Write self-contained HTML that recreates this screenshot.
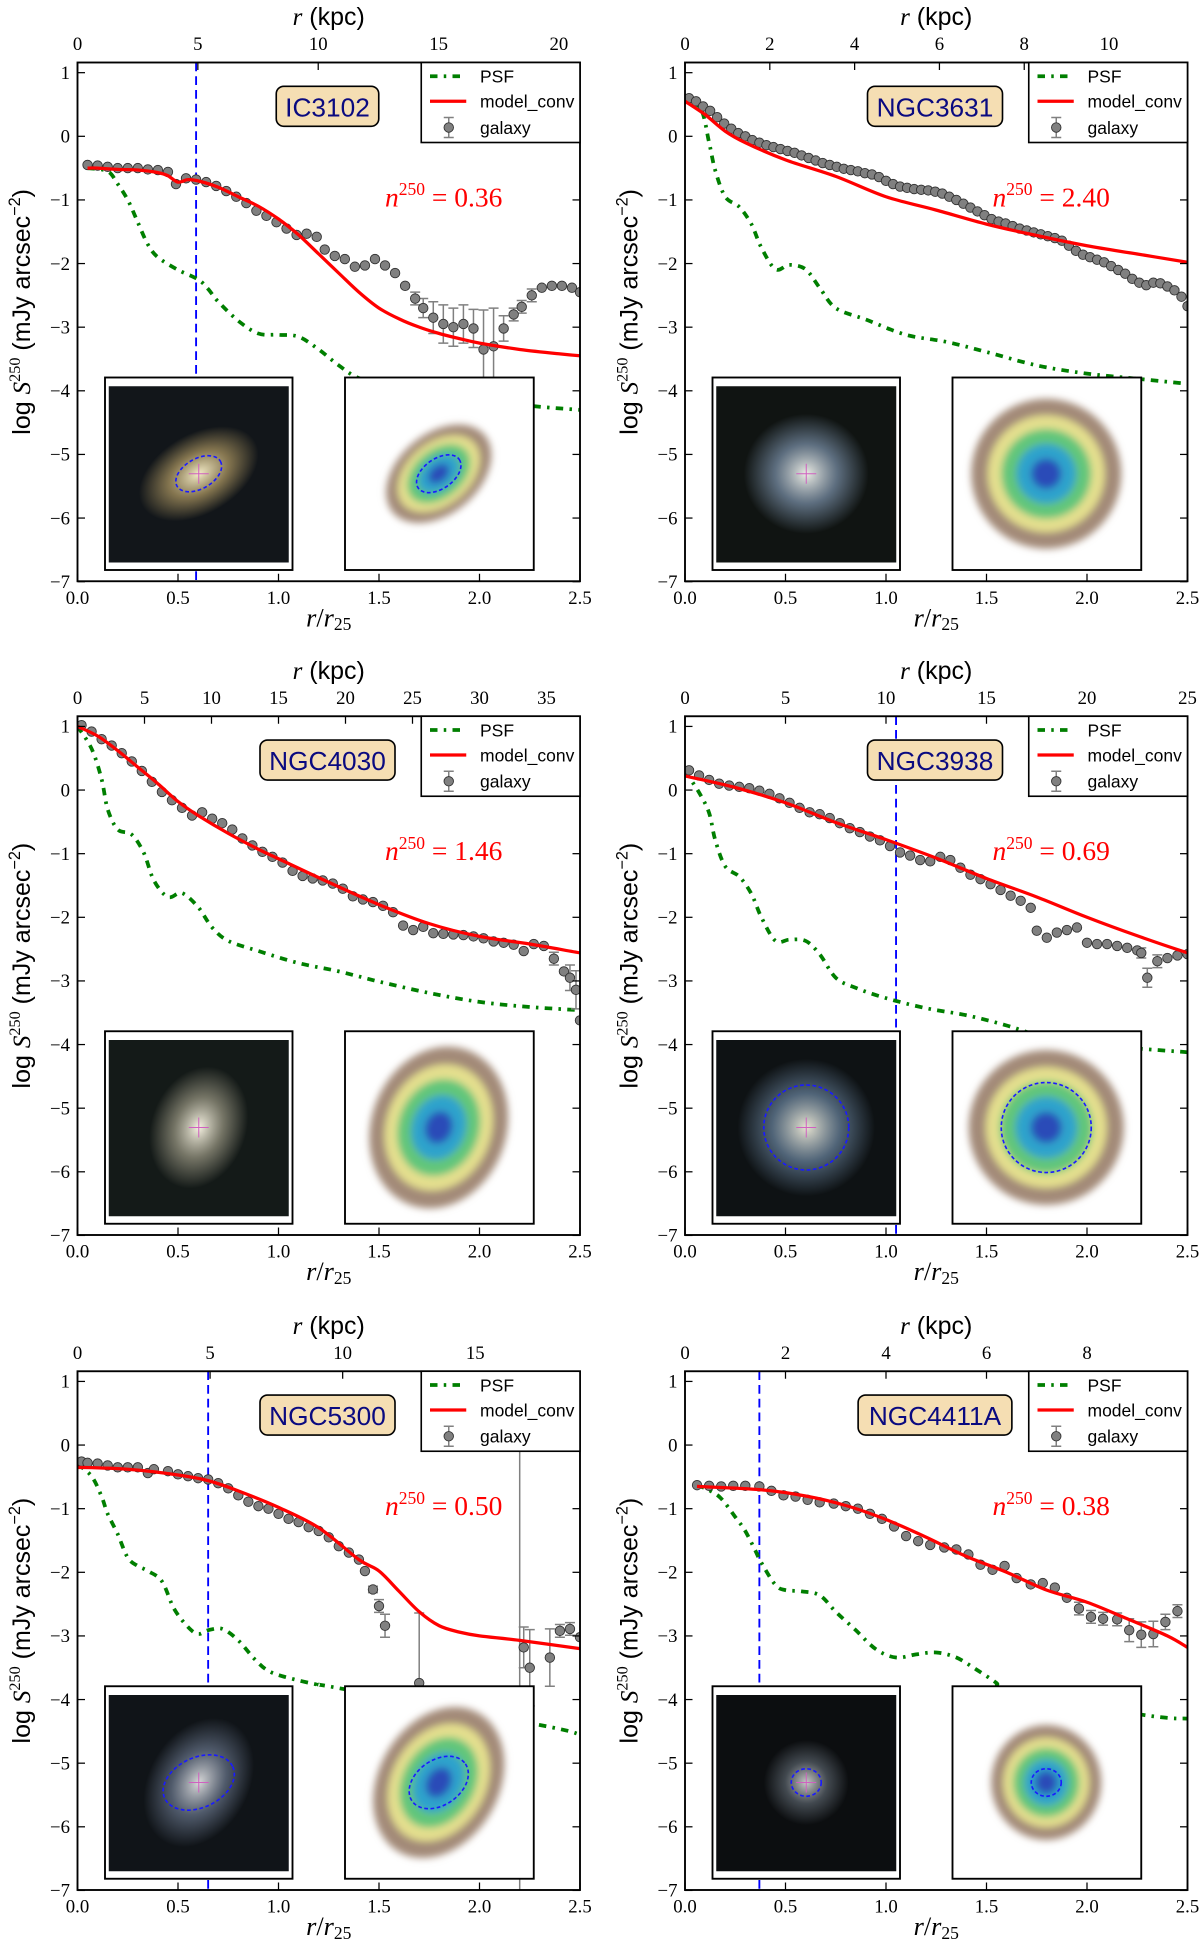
<!DOCTYPE html>
<html><head><meta charset="utf-8"><title>Surface brightness profiles</title>
<style>html,body{margin:0;padding:0;background:#fff;overflow:hidden}svg{display:block}</style></head>
<body>
<svg id="fig" width="1200" height="1945" viewBox="0 0 960 1556" xmlns="http://www.w3.org/2000/svg">
<defs>
<filter id="blur3" x="-20%" y="-20%" width="140%" height="140%"><feGaussianBlur stdDeviation="3"/></filter>
</defs>
</svg>
<script>
// ---------------- data ----------------
const galaxyNames = ["IC3102","NGC3631","NGC4030","NGC3938","NGC5300","NGC4411A"];
const sersicN = ["0.36","2.40","1.46","0.69","0.50","0.38"];
const kpcPerR = [8.35,4.74,15.0,10.0,7.58,4.0];
const kpcTicks1=[0,5,10,15,20], kpcTicks2=[0,2,4,6,8,10], kpcTicks3=[0,5,10,15,20,25,30,35], kpcTicks4=[0,5,10,15,20,25], kpcTicks5=[0,5,10,15], kpcTicks6=[0,2,4,6,8];
const r25Line = [0.59,null,null,1.05,0.65,0.37];
const xTicks = [0.0,0.5,1.0,1.5,2.0,2.5];
const xTickLabels = ["0.0","0.5","1.0","1.5","2.0","2.5"];
const yTicks = [1,0,-1,-2,-3,-4,-5,-6,-7];
const yTickLabels = ["1","0","\u22121","\u22122","\u22123","\u22124","\u22125","\u22126","\u22127"];

// Panel 1 IC3102
const galR1=[.05,.10,.15,.20,.25,.30,.35,.40,.45,.49,.54,.59,.64,.69,.74,.79,.84,.89,.94,.99,1.04,1.09,1.14,1.19,1.23,1.28,1.33,1.38,1.43,1.48,1.53,1.58,1.63,1.68,1.72,1.77,1.82,1.87,1.92,1.97,2.02,2.07,2.12,2.17,2.21,2.26,2.31,2.36,2.41,2.46,2.5];
const galV1=[-0.45,-0.46,-0.48,-0.5,-0.5,-0.5,-0.52,-0.53,-0.56,-0.75,-0.66,-0.68,-0.72,-0.78,-0.86,-0.95,-1.05,-1.17,-1.25,-1.35,-1.45,-1.55,-1.53,-1.58,-1.78,-1.88,-1.93,-2.05,-2.03,-1.93,-2.03,-2.15,-2.35,-2.55,-2.7,-2.85,-2.95,-3.0,-2.95,-3.02,-3.35,-3.3,-3.02,-2.8,-2.68,-2.5,-2.38,-2.35,-2.35,-2.38,-2.45];
const modR1=[0.05,0.1,0.2,0.3,0.4,0.45,0.5,0.55,0.6,0.7,0.8,0.9,1.0,1.1,1.2,1.3,1.4,1.5,1.6,1.7,1.8,1.9,2.0,2.2,2.4,2.5];
const modV1=[-0.5,-0.5,-0.52,-0.53,-0.57,-0.62,-0.72,-0.68,-0.7,-0.8,-0.95,-1.1,-1.3,-1.55,-1.85,-2.15,-2.45,-2.7,-2.87,-3.0,-3.1,-3.18,-3.25,-3.35,-3.42,-3.45];
const psfR1=[0.05,0.15,0.2,0.25,0.3,0.35,0.4,0.5,0.6,0.65,0.7,0.8,0.9,1.0,1.1,1.2,1.3,1.4,1.6,2.0,2.3,2.5];
const psfV1=[-0.5,-0.55,-0.75,-1.0,-1.35,-1.7,-1.9,-2.1,-2.25,-2.4,-2.6,-2.9,-3.1,-3.12,-3.15,-3.35,-3.6,-3.8,-4.0,-4.15,-4.25,-4.3];
const errR1=[1.68,1.72,1.77,1.82,1.87,1.92,1.97,2.02,2.07,2.12,2.17,2.21,2.26];
const errE1=[0.1,0.15,0.25,0.3,0.3,0.3,0.3,0.62,0.6,0.2,0.1,0.1,0.1];

// Panel 2 NGC3631
const galR2=[.02,.055,.09,.125,.16,.195,.23,.265,.30,.335,.37,.405,.44,.475,.51,.545,.58,.615,.65,.685,.72,.755,.79,.825,.86,.895,.93,.965,1.0,1.035,1.07,1.105,1.14,1.175,1.21,1.245,1.28,1.315,1.35,1.385,1.42,1.455,1.49,1.525,1.56,1.595,1.63,1.665,1.70,1.735,1.77,1.805,1.84,1.875,1.91,1.945,1.98,2.015,2.05,2.085,2.12,2.155,2.19,2.225,2.26,2.295,2.33,2.365,2.40,2.435,2.47,2.5];
const galV2=[0.6,0.55,0.47,0.4,0.3,0.2,0.12,0.05,0.0,-0.06,-0.1,-0.14,-0.17,-0.2,-0.23,-0.26,-0.3,-0.34,-0.38,-0.42,-0.45,-0.48,-0.51,-0.53,-0.55,-0.58,-0.6,-0.64,-0.7,-0.75,-0.79,-0.81,-0.83,-0.84,-0.85,-0.87,-0.9,-0.95,-1.0,-1.06,-1.12,-1.18,-1.24,-1.3,-1.34,-1.37,-1.41,-1.45,-1.48,-1.51,-1.54,-1.57,-1.6,-1.64,-1.72,-1.8,-1.86,-1.9,-1.94,-1.98,-2.04,-2.1,-2.16,-2.24,-2.3,-2.34,-2.3,-2.31,-2.36,-2.42,-2.52,-2.67];
const modR2=[0,0.1,0.2,0.3,0.5,0.75,1.0,1.25,1.5,1.75,2.0,2.25,2.5];
const modV2=[0.55,0.34,0.08,-0.1,-0.37,-0.63,-0.95,-1.16,-1.38,-1.56,-1.72,-1.85,-1.98];
const psfR2=[0,0.08,0.12,0.15,0.2,0.27,0.33,0.38,0.45,0.52,0.6,0.67,0.75,0.9,1.1,1.3,1.5,1.75,2.0,2.25,2.5];
const psfV2=[0.6,0.42,-0.1,-0.53,-0.95,-1.11,-1.38,-1.75,-2.09,-2.02,-2.09,-2.38,-2.7,-2.88,-3.12,-3.23,-3.39,-3.6,-3.73,-3.81,-3.89];
const errR2=[], errE2=[];

// Panel 3 NGC4030
const galR3=[.02,.07,.12,.17,.22,.27,.32,.37,.42,.47,.52,.57,.62,.67,.72,.77,.82,.87,.92,.97,1.02,1.07,1.12,1.17,1.22,1.27,1.32,1.37,1.42,1.47,1.52,1.57,1.62,1.67,1.72,1.77,1.82,1.87,1.92,1.97,2.02,2.07,2.12,2.17,2.22,2.27,2.32,2.37,2.42,2.45,2.48,2.5];
const galV3=[1.02,0.92,0.8,0.7,0.58,0.45,0.3,0.13,-0.03,-0.16,-0.28,-0.4,-0.35,-0.45,-0.52,-0.62,-0.76,-0.87,-0.97,-1.05,-1.14,-1.27,-1.35,-1.39,-1.42,-1.47,-1.55,-1.67,-1.72,-1.76,-1.82,-1.92,-2.13,-2.2,-2.15,-2.25,-2.26,-2.27,-2.28,-2.3,-2.33,-2.38,-2.4,-2.43,-2.53,-2.42,-2.45,-2.65,-2.85,-2.95,-3.14,-3.62];
const modR3=[0,0.1,0.2,0.3,0.4,0.5,0.6,0.75,0.9,1.0,1.25,1.5,1.75,2.0,2.25,2.5];
const modV3=[1.0,0.85,0.62,0.36,0.1,-0.18,-0.4,-0.68,-0.93,-1.08,-1.45,-1.8,-2.1,-2.3,-2.42,-2.56];
const psfR3=[0,0.07,0.12,0.15,0.2,0.27,0.33,0.38,0.45,0.52,0.6,0.67,0.75,0.9,1.1,1.3,1.5,1.75,2.0,2.25,2.5];
const psfV3=[1.0,0.65,0.17,-0.3,-0.62,-0.7,-0.99,-1.42,-1.68,-1.62,-1.84,-2.16,-2.37,-2.53,-2.72,-2.85,-3.01,-3.19,-3.33,-3.41,-3.46];
const errR3=[2.37,2.45,2.48], errE3=[0.1,0.2,0.3];

// Panel 4 NGC3938
const galR4=[.02,.07,.12,.17,.22,.27,.32,.37,.42,.47,.52,.57,.62,.67,.72,.77,.82,.87,.92,.97,1.02,1.07,1.12,1.17,1.22,1.27,1.32,1.37,1.42,1.47,1.52,1.57,1.62,1.67,1.72,1.75,1.8,1.85,1.9,1.95,2.0,2.05,2.1,2.15,2.2,2.25,2.27,2.3,2.35,2.4,2.45,2.5];
const galV4=[0.31,0.23,0.16,0.1,0.07,0.05,0.03,-0.01,-0.06,-0.13,-0.2,-0.28,-0.35,-0.38,-0.44,-0.52,-0.6,-0.66,-0.73,-0.79,-0.88,-0.98,-1.03,-1.1,-1.12,-1.05,-1.1,-1.22,-1.33,-1.4,-1.48,-1.57,-1.66,-1.74,-1.85,-2.21,-2.32,-2.24,-2.2,-2.16,-2.4,-2.42,-2.42,-2.45,-2.48,-2.52,-2.56,-2.95,-2.69,-2.64,-2.6,-2.58];
const modR4=[0,0.25,0.5,0.75,1.0,1.25,1.5,1.75,2.0,2.25,2.5];
const modV4=[0.22,0.04,-0.2,-0.51,-0.78,-1.07,-1.39,-1.68,-2.0,-2.29,-2.56];
const psfR4=[0,0.07,0.12,0.15,0.2,0.27,0.33,0.38,0.45,0.52,0.6,0.67,0.75,0.85,1.0,1.2,1.4,1.6,1.8,2.0,2.5];
const psfV4=[0.3,-0.04,-0.36,-0.78,-1.2,-1.36,-1.63,-2.0,-2.37,-2.35,-2.37,-2.58,-2.95,-3.11,-3.27,-3.43,-3.54,-3.7,-3.9,-4.0,-4.12];
const errR4=[2.27,2.3,2.35], errE4=[0.08,0.15,0.1];

// Panel 5 NGC5300
const galR5=[.02,.05,.1,.15,.2,.25,.3,.35,.38,.45,.5,.55,.6,.65,.7,.75,.8,.85,.9,.95,1.0,1.05,1.1,1.15,1.2,1.25,1.3,1.35,1.4,1.43,1.47,1.5,1.53,1.7,2.2,2.22,2.25,2.35,2.4,2.45,2.5];
const galV5=[-0.26,-0.28,-0.29,-0.32,-0.35,-0.35,-0.35,-0.44,-0.38,-0.41,-0.46,-0.49,-0.52,-0.54,-0.6,-0.68,-0.79,-0.89,-0.96,-1.0,-1.08,-1.16,-1.21,-1.29,-1.35,-1.45,-1.59,-1.69,-1.8,-1.98,-2.27,-2.53,-2.84,-3.74,-5.0,-3.18,-3.5,-3.34,-2.92,-2.89,-3.02];
const modR5=[0,0.25,0.5,0.65,0.8,1.0,1.2,1.4,1.5,1.6,1.7,1.8,1.9,2.0,2.2,2.5];
const modV5=[-0.35,-0.38,-0.47,-0.56,-0.72,-0.98,-1.3,-1.8,-1.98,-2.3,-2.62,-2.84,-2.94,-3.0,-3.07,-3.2];
const psfR5=[0,0.07,0.12,0.15,0.2,0.25,0.3,0.35,0.42,0.48,0.55,0.6,0.65,0.72,0.8,0.88,0.95,1.05,1.2,1.3,2.3,2.5];
const psfV5=[-0.3,-0.49,-0.81,-1.08,-1.4,-1.77,-1.9,-1.98,-2.14,-2.57,-2.86,-2.97,-2.91,-2.89,-3.07,-3.36,-3.55,-3.66,-3.77,-3.82,-4.4,-4.55];
const errR5=[1.47,1.5,1.53,1.7,2.2,2.22,2.25,2.35,2.4,2.45], errE5=[0.05,0.1,0.18,1.1,5.7,0.32,0.6,0.45,0.1,0.1];

// Panel 6 NGC4411A
const galR6=[.06,.12,.18,.24,.3,.37,.43,.49,.55,.61,.67,.74,.8,.86,.92,.98,1.04,1.1,1.16,1.22,1.29,1.35,1.41,1.47,1.53,1.59,1.65,1.72,1.78,1.84,1.9,1.96,2.02,2.08,2.15,2.21,2.27,2.33,2.39,2.45];
const galV6=[-0.63,-0.64,-0.65,-0.64,-0.64,-0.65,-0.72,-0.79,-0.81,-0.86,-0.9,-0.92,-0.96,-1.0,-1.08,-1.16,-1.28,-1.43,-1.51,-1.57,-1.61,-1.64,-1.72,-1.88,-1.96,-1.9,-2.09,-2.19,-2.17,-2.24,-2.4,-2.57,-2.7,-2.73,-2.74,-2.91,-2.98,-2.97,-2.78,-2.61];
const modR6=[0.06,0.37,0.6,0.8,1.0,1.2,1.4,1.6,1.8,2.0,2.2,2.4,2.5];
const modV6=[-0.65,-0.7,-0.8,-0.95,-1.17,-1.45,-1.75,-2.0,-2.28,-2.47,-2.73,-3.0,-3.18];
const psfR6=[0.06,0.12,0.18,0.25,0.3,0.35,0.38,0.45,0.5,0.58,0.67,0.75,0.85,0.95,1.05,1.15,1.25,1.35,1.45,1.55,1.6,2.3,2.5];
const psfV6=[-0.63,-0.71,-0.84,-1.13,-1.35,-1.66,-1.85,-2.2,-2.28,-2.3,-2.36,-2.62,-2.91,-3.21,-3.34,-3.29,-3.26,-3.34,-3.53,-3.74,-3.9,-4.25,-4.3];
const errR6=[1.96,2.02,2.08,2.15,2.21,2.27,2.33,2.39,2.45], errE6=[0.1,0.1,0.1,0.1,0.18,0.2,0.2,0.12,0.1];

const galR=[galR1,galR2,galR3,galR4,galR5,galR6], galV=[galV1,galV2,galV3,galV4,galV5,galV6];
const modR=[modR1,modR2,modR3,modR4,modR5,modR6], modV=[modV1,modV2,modV3,modV4,modV5,modV6];
const psfR=[psfR1,psfR2,psfR3,psfR4,psfR5,psfR6], psfV=[psfV1,psfV2,psfV3,psfV4,psfV5,psfV6];
const errR=[errR1,errR2,errR3,errR4,errR5,errR6], errE=[errE1,errE2,errE3,errE4,errE5,errE6];
const kpcTicks=[kpcTicks1,kpcTicks2,kpcTicks3,kpcTicks4,kpcTicks5,kpcTicks6];

// ---------------- layout (not data) ----------------
const PX0=[62,548,62,548,62,548], PY0=[50,50,573,573,1097,1097];
const W=402, H=415, XMAX=2.5, YTOP=1.16, YUNIT=50.9;
const boxW=[82,108,108,108,108,123];
const NS="http://www.w3.org/2000/svg";
const svg=document.getElementById('fig');
function mk(tag,attrs,parent){const e=document.createElementNS(NS,tag);for(const k in attrs)e.setAttribute(k,attrs[k]);(parent||svg).appendChild(e);return e;}
function X(p,r){return PX0[p]+r/XMAX*W;}
function Y(p,v){return PY0[p]+(YTOP-v)*YUNIT;}
function Yc(p,v){return Y(p,Math.max(-7.2,Math.min(1.3,v)));}
const serif='"Liberation Serif","DejaVu Serif",serif', sans='"Liberation Sans","DejaVu Sans",sans-serif';

const leftImg=[
 {bg:'#12161a',rx:52,ry:32,rot:-30,c1:'#f4ecc8',c2:'#a08c5c',ell:[20,12,-30]},
 {bg:'#101412',rx:50,ry:48,rot:0,c1:'#ecece4',c2:'#70849a',ell:null},
 {bg:'#141a18',rx:38,ry:50,rot:20,c1:'#f6f2e2',c2:'#8c8a78',ell:null},
 {bg:'#0e1214',rx:55,ry:55,rot:0,c1:'#e6e2d0',c2:'#607890',ell:[34,34,0]},
 {bg:'#101418',rx:40,ry:55,rot:30,c1:'#d8d8d8',c2:'#606c80',ell:[30,20,-25]},
 {bg:'#0c0e10',rx:34,ry:34,rot:0,c1:'#c8c8c8',c2:'#505860',ell:[12,11,0]}];
const rightImg=[
 {rx:48,ry:32,rot:-40,ell:[20,12,-35]},
 {rx:60,ry:60,rot:0,ell:null},
 {rx:54,ry:66,rot:20,ell:null},
 {rx:62,ry:62,rot:0,ell:[36,36,0]},
 {rx:48,ry:64,rot:30,ell:[26,18,-35]},
 {rx:44,ry:46,rot:0,ell:[12,11,0]}];
const heat=['#a38a78','#e4df8e','#62c67a','#2ea3cc','#2c4cb8'];

function spline(p,R,V){
  const P=R.map((r,i)=>[X(p,r),Y(p,V[i])]);
  let d='M'+P[0][0].toFixed(1)+','+P[0][1].toFixed(1);
  for(let i=0;i<P.length-1;i++){
    const p0=P[Math.max(i-1,0)],p1=P[i],p2=P[i+1],p3=P[Math.min(i+2,P.length-1)];
    const c1=[p1[0]+(p2[0]-p0[0])/6,p1[1]+(p2[1]-p0[1])/6];
    const c2=[p2[0]-(p3[0]-p1[0])/6,p2[1]-(p3[1]-p1[1])/6];
    d+=`C${c1[0].toFixed(1)},${c1[1].toFixed(1)} ${c2[0].toFixed(1)},${c2[1].toFixed(1)} ${p2[0].toFixed(1)},${p2[1].toFixed(1)}`;
  }
  return d;
}

for(let p=0;p<6;p++){
  const g=mk('g',{});
  
  
  const x0=PX0[p], y0=PY0[p];
  const clip=mk('clipPath',{id:'clip'+p},g);
  mk('rect',{x:x0,y:y0,width:W,height:H},clip);
  const plot=mk('g',{'clip-path':'url(#clip'+p+')'},g);
  
  

  if(r25Line[p]!==null){
    const l=mk('line',{x1:X(p,r25Line[p]),x2:X(p,r25Line[p]),y1:y0,y2:y0+H,stroke:'#0000ff','stroke-width':1.5,'stroke-dasharray':'7,4'},plot);
    
    
  }
  const ps=mk('path',{d:spline(p,psfR[p],psfV[p]),fill:'none',stroke:'#007f00','stroke-width':3,'stroke-dasharray':'6,5,2,5'},plot);
  
  
  const eg=mk('g',{stroke:'#808080','stroke-width':1.2},plot);
  
  
  errR[p].forEach((r,i)=>{
    let k=galR[p].indexOf(r); if(k<0) return;
    const v=galV[p][k], e=errE[p][i], xx=X(p,r);
    const yt=Yc(p,v+e), yb=Yc(p,v-e);
    const eb=mk('path',{d:`M${xx},${yt}V${yb}M${xx-4},${yt}h8M${xx-4},${yb}h8`,fill:'none'},eg);
    
    
  });
  const gg=mk('g',{},plot);
  
  
  galR[p].forEach((r,i)=>{
    const c=mk('circle',{cx:X(p,r),cy:Y(p,galV[p][i]),r:3.8,fill:'#808080',stroke:'#303030','stroke-width':0.7},gg);
    
    
  });
  const ml=mk('path',{d:spline(p,modR[p],modV[p]),fill:'none',stroke:'#ff0000','stroke-width':2.6,'stroke-linejoin':'round'},plot);
  
  

  const L=leftImg[p], Rr=rightImg[p];
  const ix=x0+22, iy=y0+252, iw=150, ih=154;
  const li=mk('g',{},g);
  
  
  mk('rect',{x:ix,y:iy,width:iw,height:ih,fill:'#fff',stroke:'#000','stroke-width':1.5},li);
  mk('rect',{x:ix+3,y:iy+7,width:iw-6,height:ih-13,fill:L.bg},li);
  const gid='lg'+p;
  const rg=mk('radialGradient',{id:gid},li);
  mk('stop',{offset:'0%','stop-color':L.c1},rg);
  mk('stop',{offset:'50%','stop-color':L.c2,'stop-opacity':0.8},rg);
  mk('stop',{offset:'100%','stop-color':L.c2,'stop-opacity':0},rg);
  const gcx=ix+iw/2, gcy=iy+ih/2;
  mk('ellipse',{cx:gcx,cy:gcy,rx:L.rx,ry:L.ry,fill:'url(#'+gid+')',transform:`rotate(${L.rot} ${gcx} ${gcy})`},li);
  mk('path',{d:`M${gcx-8},${gcy}h16M${gcx},${gcy-8}v16`,stroke:'#d060c0','stroke-width':0.8},li);
  if(L.ell){mk('ellipse',{cx:gcx,cy:gcy,rx:L.ell[0],ry:L.ell[1],fill:'none',stroke:'#1a1aff','stroke-width':1.3,'stroke-dasharray':'3,2',transform:`rotate(${L.ell[2]} ${gcx} ${gcy})`},li);}

  const rx0=x0+214;
  const ri=mk('g',{},g);
  
  
  mk('rect',{x:rx0,y:iy,width:151,height:ih,fill:'#fff',stroke:'#000','stroke-width':1.5},ri);
  const hc=rx0+75, hcy=iy+77;
  const hb=mk('g',{filter:'url(#blur3)',transform:`rotate(${Rr.rot} ${hc} ${hcy})`},ri);
  [1,0.78,0.6,0.4,0.2].forEach((s,k)=>{mk('ellipse',{cx:hc,cy:hcy,rx:Rr.rx*s,ry:Rr.ry*s,fill:heat[k]},hb);});
  if(Rr.ell){mk('ellipse',{cx:hc,cy:hcy,rx:Rr.ell[0],ry:Rr.ell[1],fill:'none',stroke:'#1a1aff','stroke-width':1.3,'stroke-dasharray':'3,2',transform:`rotate(${Rr.ell[2]} ${hc} ${hcy})`},ri);}

  const fr=mk('rect',{x:x0,y:y0,width:W,height:H,fill:'none',stroke:'#000','stroke-width':1.5},g);
  
  

  const ax=mk('g',{},g);
  
  
  xTicks.forEach((t,i)=>{
    const xx=X(p,t);
    mk('line',{x1:xx,x2:xx,y1:y0+H,y2:y0+H-6,stroke:'#000','stroke-width':1},ax);
    const tl=mk('text',{x:xx,y:y0+H+18,'text-anchor':'middle','font-family':serif,'font-size':15},ax);
    tl.textContent=xTickLabels[i];
    
    
  });
  const xl=mk('text',{x:x0+W/2,y:y0+H+36,'text-anchor':'middle','font-family':serif,'font-size':21,'font-style':'italic'},g);
  xl.innerHTML='r<tspan font-style="normal">/</tspan>r<tspan font-size="14" dy="3" font-style="normal">25</tspan>';
  
  

  const at=mk('g',{},g);
  
  
  kpcTicks[p].forEach(t=>{
    const xx=X(p,t/kpcPerR[p]);
    mk('line',{x1:xx,x2:xx,y1:y0,y2:y0+6,stroke:'#000','stroke-width':1},at);
    const tl=mk('text',{x:xx,y:y0-10,'text-anchor':'middle','font-family':serif,'font-size':15},at);
    tl.textContent=String(t);
    
    
  });
  const tt=mk('text',{x:x0+W/2,y:y0-30,'text-anchor':'middle','font-family':sans,'font-size':20},g);
  tt.innerHTML='<tspan font-family=\'"Liberation Serif",serif\' font-style="italic">r</tspan> (kpc)';
  
  

  const ay=mk('g',{},g);
  
  
  yTicks.forEach((t,i)=>{
    const yy=Y(p,t);
    mk('line',{x1:x0,x2:x0+6,y1:yy,y2:yy,stroke:'#000','stroke-width':1},ay);
    mk('line',{x1:x0+W,x2:x0+W-6,y1:yy,y2:yy,stroke:'#000','stroke-width':1},ay);
    const tl=mk('text',{x:x0-6,y:yy+5,'text-anchor':'end','font-family':serif,'font-size':15},ay);
    tl.textContent=yTickLabels[i];
    
    
  });
  const yl=mk('text',{x:0,y:0,'text-anchor':'middle','font-family':sans,'font-size':20,transform:`translate(${x0-38},${y0+H/2-8}) rotate(-90)`},g);
  yl.innerHTML='log <tspan font-family=\'"Liberation Serif",serif\' font-style="italic">S</tspan><tspan font-family=\'"Liberation Serif",serif\' font-size="13" dy="-8">250</tspan><tspan dy="8"> (mJy arcsec</tspan><tspan font-size="13" dy="-8">\u22122</tspan><tspan dy="8">)</tspan>';
  
  

  const nb=mk('g',{},g);
  
  
  mk('rect',{x:x0+200-boxW[p]/2,y:y0+19,width:boxW[p],height:32,rx:6,fill:'#f5deb3',stroke:'#000','stroke-width':1.3},nb);
  const nt=mk('text',{x:x0+200,y:y0+43,'text-anchor':'middle','font-family':sans,'font-size':21,fill:'#0a0a80'},nb);
  nt.textContent=galaxyNames[p];

  const sn=mk('text',{x:x0+246,y:y0+115,'font-family':serif,'font-size':22,fill:'#ff0000'},g);
  sn.innerHTML='<tspan font-style="italic">n</tspan><tspan font-size="14" dy="-9">250</tspan><tspan dy="9"> = '+sersicN[p]+'</tspan>';
  
  

  const lg=mk('g',{},g);
  
  
  mk('rect',{x:x0+275,y:y0,width:127,height:64,fill:'#fff',stroke:'#000','stroke-width':1.3},lg);
  const e1=mk('g',{},lg);
  
  
  mk('line',{x1:x0+282,x2:x0+311,y1:y0+11,y2:y0+11,stroke:'#007f00','stroke-width':3,'stroke-dasharray':'6,5,2,5'},e1);
  const t1=mk('text',{x:x0+322,y:y0+16,'font-family':sans,'font-size':14},e1); t1.textContent='PSF';
  const e2=mk('g',{},lg);
  
  
  mk('line',{x1:x0+282,x2:x0+311,y1:y0+31,y2:y0+31,stroke:'#ff0000','stroke-width':2.6},e2);
  const t2=mk('text',{x:x0+322,y:y0+36,'font-family':sans,'font-size':14},e2); t2.textContent='model_conv';
  const e3=mk('g',{},lg);
  
  
  mk('path',{d:`M${x0+297},${y0+44}v16M${x0+293},${y0+44}h8M${x0+293},${y0+60}h8`,stroke:'#808080','stroke-width':1.2},e3);
  mk('circle',{cx:x0+297,cy:y0+52,r:3.8,fill:'#808080',stroke:'#303030','stroke-width':0.7},e3);
  const t3=mk('text',{x:x0+322,y:y0+57,'font-family':sans,'font-size':14},e3); t3.textContent='galaxy';
}
</script>
</body></html>
